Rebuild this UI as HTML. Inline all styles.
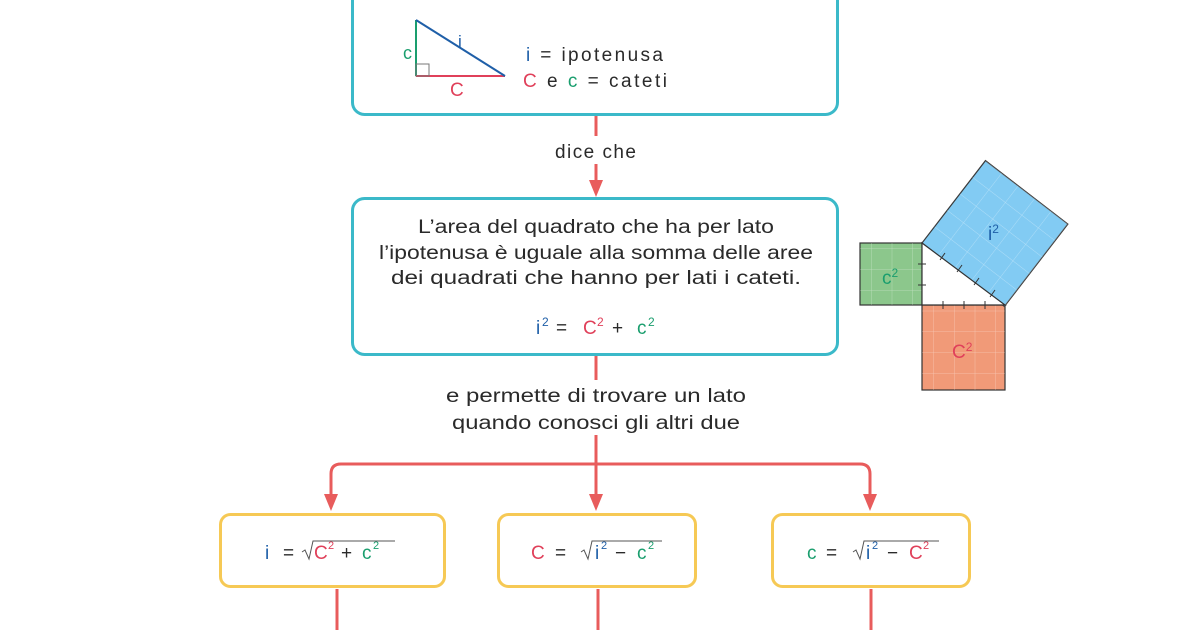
<!DOCTYPE html>
<html><head><meta charset="utf-8"><style>
html,body{margin:0;padding:0;background:#fff;}
svg{display:block;}
text{font-family:"Liberation Sans",sans-serif;fill:#2a2a2a;}
.b{fill:#1f5fa8}.r{fill:#e0405a}.g{fill:#1a9e6e}
</style></head><body>
<svg width="1200" height="630" viewBox="0 0 1200 630" xmlns="http://www.w3.org/2000/svg">
<defs>
<pattern id="gp" width="20.75" height="20.75" patternUnits="userSpaceOnUse"><path d="M20.75 0V20.75H0" fill="none" stroke="#ffffff" stroke-width="0.8" opacity="0.45"/></pattern>
<pattern id="gb" width="20.8" height="20.8" patternUnits="userSpaceOnUse"><path d="M20.8 0V20.8H0" fill="none" stroke="#ffffff" stroke-width="0.8" opacity="0.45"/></pattern>
</defs>
<!-- top box -->
<rect x="352.5" y="-20" width="485" height="134.5" rx="12" fill="#fff" stroke="#3bb9c9" stroke-width="3"/>
<line x1="416" y1="20" x2="416" y2="76" stroke="#1a9e6e" stroke-width="2"/>
<line x1="416" y1="76" x2="505" y2="76" stroke="#e0405a" stroke-width="2"/>
<line x1="416" y1="20" x2="505" y2="76" stroke="#1f5fa8" stroke-width="2"/>
<rect x="416" y="64" width="13" height="12" fill="none" stroke="#777" stroke-width="1"/>
<text x="403" y="59" font-size="18" class="g">c</text>
<text x="458" y="47" font-size="17" class="b">i</text>
<text x="450" y="96" font-size="19" class="r">C</text>
<text x="526" y="61" font-size="19" textLength="137" lengthAdjust="spacing"><tspan class="b">i</tspan> = ipotenusa</text>
<text x="523" y="87" font-size="19" textLength="144" lengthAdjust="spacing"><tspan class="r">C</tspan> e <tspan class="g">c</tspan> = cateti</text>

<!-- connector 1 -->
<line x1="596" y1="116" x2="596" y2="136" stroke="#e85c5c" stroke-width="3"/>
<text x="555" y="158" font-size="19" textLength="81" lengthAdjust="spacing">dice che</text>
<line x1="596" y1="164" x2="596" y2="183" stroke="#e85c5c" stroke-width="3"/>
<polygon points="589,180 603,180 596,197" fill="#e85c5c"/>

<!-- box 2 -->
<rect x="352.5" y="198.5" width="485" height="156" rx="12" fill="#fff" stroke="#3bb9c9" stroke-width="3"/>
<text x="596" y="233" font-size="19" text-anchor="middle" textLength="356" lengthAdjust="spacingAndGlyphs">L’area del quadrato che ha per lato</text>
<text x="596" y="259" font-size="19" text-anchor="middle" textLength="434" lengthAdjust="spacingAndGlyphs">l’ipotenusa è uguale alla somma delle aree</text>
<text x="596" y="284" font-size="19" text-anchor="middle" textLength="410" lengthAdjust="spacingAndGlyphs">dei quadrati che hanno per lati i cateti.</text>
<g font-size="19">
<text x="536" y="334" class="b">i</text><text x="542" y="326" font-size="12" class="b">2</text>
<text x="556" y="334">=</text>
<text x="583" y="334" class="r">C</text><text x="597" y="326" font-size="12" class="r">2</text>
<text x="612" y="334">+</text>
<text x="637" y="334" class="g">c</text><text x="648" y="326" font-size="12" class="g">2</text>
</g>

<!-- connector 2 -->
<line x1="596" y1="356" x2="596" y2="380" stroke="#e85c5c" stroke-width="3"/>
<text x="596" y="402" font-size="19" text-anchor="middle" textLength="300" lengthAdjust="spacingAndGlyphs">e permette di trovare un lato</text>
<text x="596" y="429" font-size="19" text-anchor="middle" textLength="288" lengthAdjust="spacingAndGlyphs">quando conosci gli altri due</text>
<line x1="596" y1="435" x2="596" y2="497" stroke="#e85c5c" stroke-width="3"/>
<path d="M331 497V474Q331 464 341 464H860Q870 464 870 474V497" fill="none" stroke="#e85c5c" stroke-width="3"/>
<polygon points="324,494 338,494 331,511" fill="#e85c5c"/>
<polygon points="589,494 603,494 596,511" fill="#e85c5c"/>
<polygon points="863,494 877,494 870,511" fill="#e85c5c"/>

<!-- bottom boxes -->
<rect x="220.5" y="514.5" width="224" height="72" rx="10" fill="#fff" stroke="#f6c955" stroke-width="3"/>
<rect x="498.5" y="514.5" width="197" height="72" rx="10" fill="#fff" stroke="#f6c955" stroke-width="3"/>
<rect x="772.5" y="514.5" width="197" height="72" rx="10" fill="#fff" stroke="#f6c955" stroke-width="3"/>

<g font-size="19">
<text x="265" y="559" class="b">i</text><text x="283" y="559">=</text>
<path d="M302 552l3-2 4 9 4-18h82" fill="none" stroke="#555" stroke-width="1"/>
<text x="314" y="559" class="r">C</text><text x="328" y="549" font-size="11" class="r">2</text>
<text x="341" y="559">+</text>
<text x="362" y="559" class="g">c</text><text x="373" y="549" font-size="11" class="g">2</text>

<text x="531" y="559" class="r">C</text><text x="555" y="559">=</text>
<path d="M581 552l3-2 4 9 4-18h70" fill="none" stroke="#555" stroke-width="1"/>
<text x="595" y="559" class="b">i</text><text x="601" y="549" font-size="11" class="b">2</text>
<text x="615" y="559">−</text>
<text x="637" y="559" class="g">c</text><text x="648" y="549" font-size="11" class="g">2</text>

<text x="807" y="559" class="g">c</text><text x="826" y="559">=</text>
<path d="M853 552l3-2 4 9 4-18h75" fill="none" stroke="#555" stroke-width="1"/>
<text x="866" y="559" class="b">i</text><text x="872" y="549" font-size="11" class="b">2</text>
<text x="887" y="559">−</text>
<text x="909" y="559" class="r">C</text><text x="923" y="549" font-size="11" class="r">2</text>
</g>

<line x1="337" y1="589" x2="337" y2="630" stroke="#e85c5c" stroke-width="3"/>
<line x1="598" y1="589" x2="598" y2="630" stroke="#e85c5c" stroke-width="3"/>
<line x1="871" y1="589" x2="871" y2="630" stroke="#e85c5c" stroke-width="3"/>

<!-- pythagoras figure -->
<rect x="860" y="243" width="62" height="62" fill="#8cc78c" stroke="#333" stroke-width="1.2"/>
<rect x="860" y="243" width="62" height="62" fill="url(#gp)"/>
<rect x="922" y="305" width="83" height="85" fill="#f19a78" stroke="#333" stroke-width="1.2"/>
<rect x="922" y="305" width="83" height="85" fill="url(#gp)"/>
<g transform="translate(922 243) rotate(-52.4)">
<rect x="0" y="0" width="104" height="104" fill="#82cbf3" stroke="#333" stroke-width="1.2"/>
<rect x="0" y="0" width="104" height="104" fill="url(#gb)"/>
</g>
<polygon points="922,243 922,305 1005,305" fill="#fff" stroke="#333" stroke-width="1.2"/>
<g stroke="#333" stroke-width="1">
<line x1="918" y1="264" x2="926" y2="264"/><line x1="918" y1="285" x2="926" y2="285"/>
<line x1="943" y1="301" x2="943" y2="309"/><line x1="964" y1="301" x2="964" y2="309"/><line x1="985" y1="301" x2="985" y2="309"/>
<line x1="940" y1="260" x2="945" y2="253"/><line x1="957" y1="272" x2="962" y2="265"/><line x1="974" y1="285" x2="979" y2="278"/><line x1="990" y1="297" x2="995" y2="290"/>
</g>
<text x="882" y="284" font-size="19" class="g">c<tspan font-size="12" dy="-7">2</tspan></text>
<text x="952" y="358" font-size="19" class="r">C<tspan font-size="12" dy="-7">2</tspan></text>
<text x="988" y="240" font-size="19" class="b">i<tspan font-size="12" dy="-7">2</tspan></text>
</svg>
</body></html>
